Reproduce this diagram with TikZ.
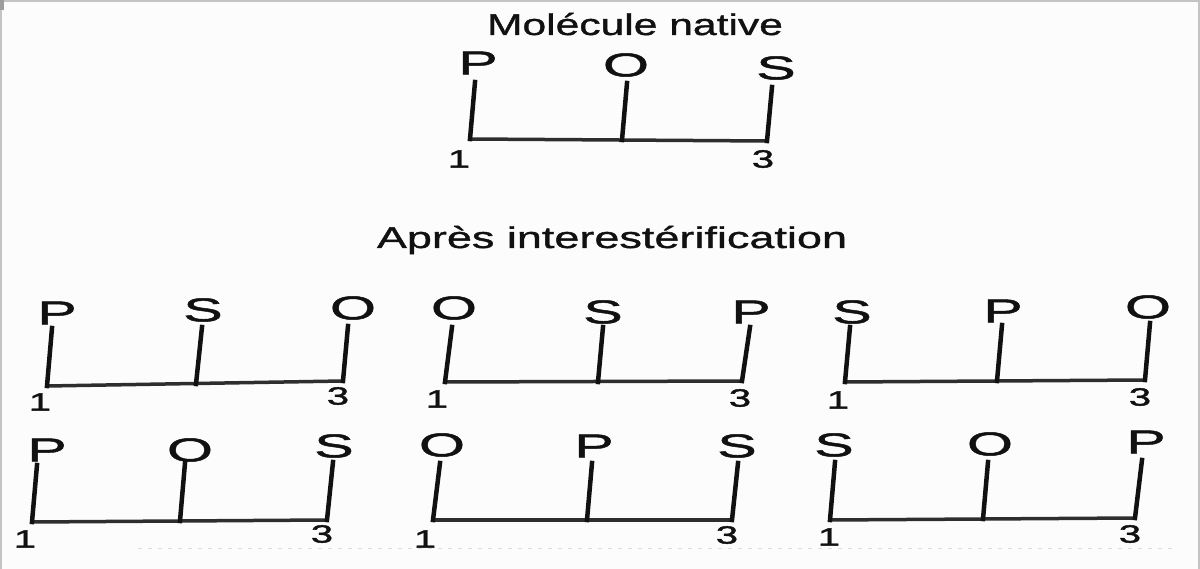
\documentclass[tikz,border=0pt]{standalone}
\usepackage{fontspec}
\setmainfont{Liberation Sans}
\newfontfamily\headfont{Liberation Sans}[FakeStretch=1.42, FakeBold=1.2]
\newfontfamily\headwidefont{Liberation Sans}[FakeStretch=1.5, FakeBold=1.2]
\newfontfamily\resfont{Liberation Sans}[FakeStretch=1.8, FakeBold=1.5]
\newfontfamily\posfont{Liberation Sans}[FakeStretch=1.6, FakeBold=1.5]

\definecolor{paper}{HTML}{FCFCFC}
\definecolor{ink}{HTML}{111111}
\definecolor{chaingray}{HTML}{2E2E2E}
\definecolor{edge}{HTML}{C4C4C4}
\definecolor{faint}{HTML}{DDDDDD}

\tikzset{
  heading/.style={font=\headfont\fontsize{30}{36}\selectfont, inner sep=0pt, anchor=base, text=ink},
  wideheading/.style={heading, font=\headwidefont\fontsize{30}{36}\selectfont},
  residue/.style={font=\resfont\fontsize{33}{40}\selectfont, inner sep=0pt, text=ink},
  position/.style={font=\posfont\fontsize{25}{30}\selectfont, inner sep=0pt, text=ink},
  stem/.style={line width=4.5pt, draw=ink, line cap=rect},
  chain/.style={line width=3.5pt, draw=chaingray, line cap=rect},
}

\begin{document}
\begin{tikzpicture}[x=1pt, y=-1pt]
  % page and its frame
  \fill[paper] (0,0) rectangle (1200,569);
  \useasboundingbox (0,0) rectangle (1200,569);
  \draw[edge, line width=2pt] (1,569) -- (1,1) -- (1200,1);
  \draw[edge, line width=2pt] (1199,1) -- (1199,569);
  \fill[edge!80!black] (0,0) rectangle (4,10);
  \draw[faint, line width=1pt, dash pattern=on 4pt off 6pt] (138,548) -- (1175,548);

  % headings
  \node[heading] (native) at (635,35) {Molécule native};
  \node[wideheading] (after) at (612,248) {Après interestérification};

  % ---------- native molecule: P-O-S ----------
  \node[residue] (t1) at (478,63) {P};
  \node[residue] (t2) at (626,65) {O};
  \node[residue] (t3) at (776,68) {S};
  \coordinate (t1a) at (475,82);  \coordinate (t1b) at (470,139);
  \coordinate (t2a) at (627,83);  \coordinate (t2b) at (622,140);
  \coordinate (t3a) at (772,87);  \coordinate (t3b) at (767,141);
  \draw[chain] (t1b) -- (t3b);
  \draw[stem] (t1a) -- (t1b);
  \draw[stem] (t2a) -- (t2b);
  \draw[stem] (t3a) -- (t3b);
  \node[position] (t1n) at (459,159) {1};
  \node[position] (t3n) at (763,159) {3};

  % ---------- row 1, left: P-S-O ----------
  \node[residue] (a1) at (57,313) {P};
  \node[residue] (a2) at (203,310) {S};
  \node[residue] (a3) at (353,308) {O};
  \coordinate (a1a) at (52,328);  \coordinate (a1b) at (47,386);
  \coordinate (a2a) at (202,327); \coordinate (a2b) at (196,384);
  \coordinate (a3a) at (348,326); \coordinate (a3b) at (343,381);
  \draw[chain] (a1b) -- (a3b);
  \draw[stem] (a1a) -- (a1b);
  \draw[stem] (a2a) -- (a2b);
  \draw[stem] (a3a) -- (a3b);
  \node[position] (a1n) at (40,402) {1};
  \node[position] (a3n) at (338,396) {3};

  % ---------- row 1, middle: O-S-P ----------
  \node[residue] (b1) at (454,308) {O};
  \node[residue] (b2) at (603,312) {S};
  \node[residue] (b3) at (751,312) {P};
  \coordinate (b1a) at (452,327); \coordinate (b1b) at (445,382);
  \coordinate (b2a) at (603,327); \coordinate (b2b) at (598,382);
  \coordinate (b3a) at (750,327); \coordinate (b3b) at (742,381);
  \draw[chain] (b1b) -- (b3b);
  \draw[stem] (b1a) -- (b1b);
  \draw[stem] (b2a) -- (b2b);
  \draw[stem] (b3a) -- (b3b);
  \node[position] (b1n) at (437,399) {1};
  \node[position] (b3n) at (740,398) {3};

  % ---------- row 1, right: S-P-O ----------
  \node[residue] (c1) at (852,312) {S};
  \node[residue] (c2) at (1003,311) {P};
  \node[residue] (c3) at (1148,307) {O};
  \coordinate (c1a) at (850,327);  \coordinate (c1b) at (845,382);
  \coordinate (c2a) at (1002,325); \coordinate (c2b) at (997,381);
  \coordinate (c3a) at (1150,323); \coordinate (c3b) at (1145,380);
  \draw[chain] (c1b) -- (c3b);
  \draw[stem] (c1a) -- (c1b);
  \draw[stem] (c2a) -- (c2b);
  \draw[stem] (c3a) -- (c3b);
  \node[position] (c1n) at (838,400) {1};
  \node[position] (c3n) at (1140,397) {3};

  % ---------- row 2, left: P-O-S ----------
  \node[residue] (d1) at (47,450) {P};
  \node[residue] (d2) at (190,450) {O};
  \node[residue] (d3) at (334,446) {S};
  \coordinate (d1a) at (37,465);  \coordinate (d1b) at (32,522);
  \coordinate (d2a) at (185,463); \coordinate (d2b) at (180,521);
  \coordinate (d3a) at (333,462); \coordinate (d3b) at (327,520);
  \draw[chain] (d1b) -- (d3b);
  \draw[stem] (d1a) -- (d1b);
  \draw[stem] (d2a) -- (d2b);
  \draw[stem] (d3a) -- (d3b);
  \node[position] (d1n) at (25,539) {1};
  \node[position] (d3n) at (322,534) {3};

  % ---------- row 2, middle: O-P-S ----------
  \node[residue] (e1) at (442,445) {O};
  \node[residue] (e2) at (594,446) {P};
  \node[residue] (e3) at (737,446) {S};
  \coordinate (e1a) at (440,463); \coordinate (e1b) at (433,520);
  \coordinate (e2a) at (592,463); \coordinate (e2b) at (587,520);
  \coordinate (e3a) at (738,463); \coordinate (e3b) at (732,520);
  \draw[chain] (e1b) -- (e3b);
  \draw[stem] (e1a) -- (e1b);
  \draw[stem] (e2a) -- (e2b);
  \draw[stem] (e3a) -- (e3b);
  \node[position] (e1n) at (425,539) {1};
  \node[position] (e3n) at (727,535) {3};

  % ---------- row 2, right: S-O-P ----------
  \node[residue] (f1) at (834,445) {S};
  \node[residue] (f2) at (990,444) {O};
  \node[residue] (f3) at (1146,442) {P};
  \coordinate (f1a) at (835,462);  \coordinate (f1b) at (830,520);
  \coordinate (f2a) at (988,462);  \coordinate (f2b) at (983,519);
  \coordinate (f3a) at (1142,460); \coordinate (f3b) at (1135,518);
  \draw[chain] (f1b) -- (f3b);
  \draw[stem] (f1a) -- (f1b);
  \draw[stem] (f2a) -- (f2b);
  \draw[stem] (f3a) -- (f3b);
  \node[position] (f1n) at (829,537) {1};
  \node[position] (f3n) at (1130,534) {3};
\end{tikzpicture}
\end{document}
